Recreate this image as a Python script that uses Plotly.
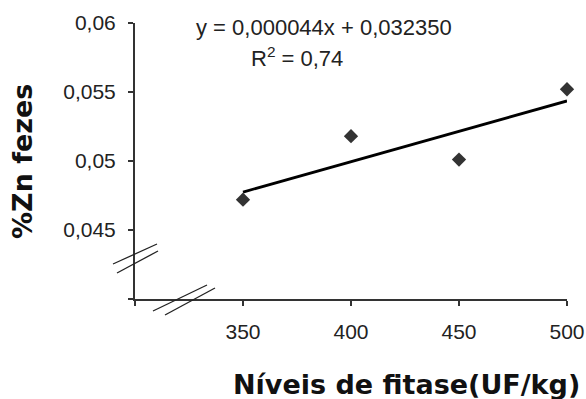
import plotly.graph_objects as go

# Data
fitase_levels = [350, 400, 450, 500]
zn_fezes = [0.0472, 0.0518, 0.0501, 0.0552]

# Trend line from displayed equation
slope = 0.000044
intercept = 0.032350
trend_x = [350, 500]
trend_y = [slope * x + intercept for x in trend_x]

x_tickvals = [300, 350, 400, 450, 500]
x_ticktext = ["", "350", "400", "450", "500"]
y_tickvals = [0.04, 0.045, 0.05, 0.055, 0.06]
y_ticktext = ["", "0,045", "0,05", "0,055", "0,06"]

equation_text = "y = 0,000044x + 0,032350"
r2_text = "R<sup>2</sup> = 0,74"
x_title = "Níveis de fitase(UF/kg)"
y_title = "%Zn fezes"

tick_font = dict(family="Liberation Sans, Arial, sans-serif", size=21, color="#222")
title_font = dict(family="DejaVu Sans, Verdana, sans-serif", size=27, color="#111")

fig = go.Figure()
fig.add_trace(go.Scatter(x=trend_x, y=trend_y, mode="lines",
                         line=dict(color="#000", width=2.8), showlegend=False,
                         cliponaxis=False))
fig.add_trace(go.Scatter(x=fitase_levels, y=zn_fezes, mode="markers",
                         marker=dict(symbol="diamond", size=11, color="#333"),
                         showlegend=False, cliponaxis=False))

axis_common = dict(showgrid=False, zeroline=False, showline=True, linecolor="#333",
                   linewidth=2, ticks="outside", ticklen=5, tickwidth=2, tickcolor="#333",
                   tickfont=tick_font, automargin=False)

fig.update_layout(
    width=586, height=399,
    margin=dict(l=135, r=19, t=23, b=100),
    paper_bgcolor="white", plot_bgcolor="white",
    xaxis=dict(range=[300, 500], tickmode="array", tickvals=x_tickvals,
               ticktext=x_ticktext, ticklabelstandoff=8, **axis_common),
    yaxis=dict(range=[0.04, 0.06], tickmode="array", tickvals=y_tickvals,
               ticktext=y_ticktext, ticklabelstandoff=8, **axis_common),
    showlegend=False,
)

# pixel -> paper coordinates (plot area: x 135..567, y 23..299)
def px(xp):
    return (xp - 135) / 432

def py(yp):
    return (299 - yp) / 276

# Text annotations
fig.add_annotation(text=equation_text, xref="paper", yref="paper",
                   x=px(324), y=py(28), showarrow=False,
                   xanchor="center", yanchor="middle",
                   font=dict(family="Liberation Sans, Arial, sans-serif", size=22, color="#222"))
fig.add_annotation(text=r2_text, xref="paper", yref="paper",
                   x=px(297), y=py(57), showarrow=False,
                   xanchor="center", yanchor="middle",
                   font=dict(family="Liberation Sans, Arial, sans-serif", size=22, color="#222"))
fig.add_annotation(text="<b>" + x_title + "</b>", xref="paper", yref="paper",
                   x=px(406), y=0, yshift=-85, showarrow=False,
                   xanchor="center", yanchor="middle", font=title_font)
fig.add_annotation(text="<b>" + y_title + "</b>", xref="paper", yref="paper",
                   x=0, xshift=-113, y=py(162), showarrow=False,
                   textangle=-90, xanchor="center", yanchor="middle", font=title_font)

# Axis break marks (paper coordinates)
breaks = [
    ((113, 264), (157, 244)),
    ((117, 273), (158, 251)),
    ((153, 311), (207, 285)),
    ((165, 315), (215, 288)),
]
for (x0, y0), (x1, y1) in breaks:
    fig.add_shape(type="line", xref="paper", yref="paper",
                  x0=px(x0), y0=py(y0), x1=px(x1), y1=py(y1),
                  line=dict(color="#222", width=1.3))

fig.write_html(
    "out.html",
    config={"displayModeBar": False},
    post_script="document.body.style.margin='0';document.body.style.overflow='hidden';",
)
